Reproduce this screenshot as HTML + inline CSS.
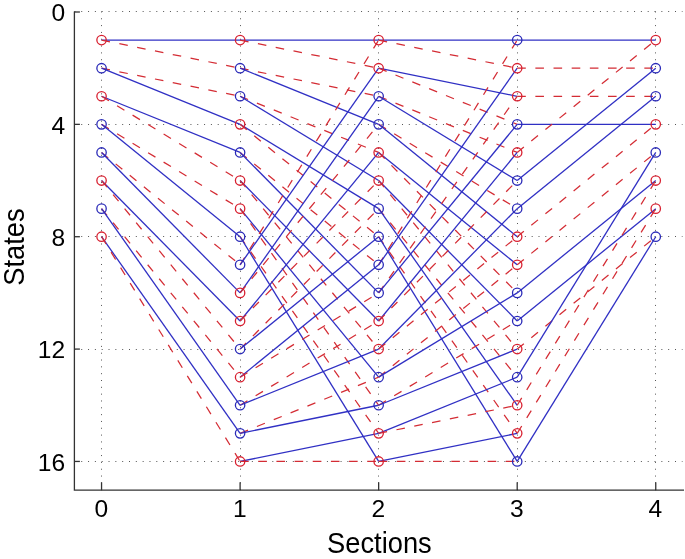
<!DOCTYPE html>
<html><head><meta charset="utf-8"><style>
html,body{margin:0;padding:0;background:#fff;}
svg{display:block;will-change:transform;}
line.b{stroke:#3030c4;}
line.r{stroke:#d42c34;stroke-dasharray:8.6px 9.56px;stroke-width:1.25px;}
circle.b{stroke:#2a2ab8;}
circle.r{stroke:#d82030;}
text{font-family:"Liberation Sans",sans-serif;fill:#000;}
.lbl{will-change:transform;}
</style></head><body>
<svg width="685" height="559" viewBox="0 0 685 559">
<rect width="685" height="559" fill="#fff"/>
<g stroke="#555" stroke-width="1" stroke-dasharray="1 5.825" fill="none">
<line x1="101.5" y1="490.2" x2="101.5" y2="11.4" />
<line x1="240.5" y1="490.2" x2="240.5" y2="11.4" />
<line x1="378.5" y1="490.2" x2="378.5" y2="11.4" />
<line x1="517.5" y1="490.2" x2="517.5" y2="11.4" />
<line x1="655.5" y1="490.2" x2="655.5" y2="11.4" />
<line x1="74.4" y1="11.5" x2="682.5" y2="11.5" />
<line x1="74.4" y1="124.5" x2="682.5" y2="124.5" />
<line x1="74.4" y1="236.5" x2="682.5" y2="236.5" />
<line x1="74.4" y1="349.5" x2="682.5" y2="349.5" />
<line x1="74.4" y1="461.5" x2="682.5" y2="461.5" />
</g>
<g stroke-width="1.3" fill="none">
<line class="b" x1="101.55" y1="40.09" x2="240.1" y2="40.09"/>
<line class="r" x1="101.55" y1="40.09" x2="240.1" y2="68.18"/>
<line class="r" x1="101.55" y1="68.18" x2="240.1" y2="96.27"/>
<line class="b" x1="101.55" y1="68.18" x2="240.1" y2="124.36"/>
<line class="b" x1="101.55" y1="96.27" x2="240.1" y2="152.45"/>
<line class="r" x1="101.55" y1="96.27" x2="240.1" y2="180.54"/>
<line class="r" x1="101.55" y1="124.36" x2="240.1" y2="208.63"/>
<line class="b" x1="101.55" y1="124.36" x2="240.1" y2="236.72"/>
<line class="r" x1="101.55" y1="152.45" x2="240.1" y2="264.81"/>
<line class="b" x1="101.55" y1="152.45" x2="240.1" y2="292.9"/>
<line class="b" x1="101.55" y1="180.54" x2="240.1" y2="320.99"/>
<line class="r" x1="101.55" y1="180.54" x2="240.1" y2="349.08"/>
<line class="r" x1="101.55" y1="208.63" x2="240.1" y2="377.17"/>
<line class="b" x1="101.55" y1="208.63" x2="240.1" y2="405.26"/>
<line class="b" x1="101.55" y1="236.72" x2="240.1" y2="433.35"/>
<line class="r" x1="101.55" y1="236.72" x2="240.1" y2="461.44"/>
<line class="b" x1="240.1" y1="40.09" x2="378.65" y2="40.09"/>
<line class="r" x1="240.1" y1="40.09" x2="378.65" y2="68.18"/>
<line class="r" x1="240.1" y1="68.18" x2="378.65" y2="96.27"/>
<line class="b" x1="240.1" y1="68.18" x2="378.65" y2="124.36"/>
<line class="r" x1="240.1" y1="96.27" x2="378.65" y2="152.45"/>
<line class="b" x1="240.1" y1="96.27" x2="378.65" y2="180.54"/>
<line class="b" x1="240.1" y1="124.36" x2="378.65" y2="208.63"/>
<line class="r" x1="240.1" y1="124.36" x2="378.65" y2="236.72"/>
<line class="r" x1="240.1" y1="152.45" x2="378.65" y2="264.81"/>
<line class="b" x1="240.1" y1="152.45" x2="378.65" y2="292.9"/>
<line class="b" x1="240.1" y1="180.54" x2="378.65" y2="320.99"/>
<line class="r" x1="240.1" y1="180.54" x2="378.65" y2="349.08"/>
<line class="b" x1="240.1" y1="208.63" x2="378.65" y2="377.17"/>
<line class="r" x1="240.1" y1="208.63" x2="378.65" y2="405.26"/>
<line class="r" x1="240.1" y1="236.72" x2="378.65" y2="433.35"/>
<line class="b" x1="240.1" y1="236.72" x2="378.65" y2="461.44"/>
<line class="r" x1="240.1" y1="264.81" x2="378.65" y2="40.09"/>
<line class="b" x1="240.1" y1="264.81" x2="378.65" y2="68.18"/>
<line class="b" x1="240.1" y1="292.9" x2="378.65" y2="96.27"/>
<line class="r" x1="240.1" y1="292.9" x2="378.65" y2="124.36"/>
<line class="b" x1="240.1" y1="320.99" x2="378.65" y2="152.45"/>
<line class="r" x1="240.1" y1="320.99" x2="378.65" y2="180.54"/>
<line class="r" x1="240.1" y1="349.08" x2="378.65" y2="208.63"/>
<line class="b" x1="240.1" y1="349.08" x2="378.65" y2="236.72"/>
<line class="b" x1="240.1" y1="377.17" x2="378.65" y2="264.81"/>
<line class="r" x1="240.1" y1="377.17" x2="378.65" y2="292.9"/>
<line class="r" x1="240.1" y1="405.26" x2="378.65" y2="320.99"/>
<line class="b" x1="240.1" y1="405.26" x2="378.65" y2="349.08"/>
<line class="r" x1="240.1" y1="433.35" x2="378.65" y2="377.17"/>
<line class="b" x1="240.1" y1="433.35" x2="378.65" y2="405.26"/>
<line class="b" x1="240.1" y1="461.44" x2="378.65" y2="433.35"/>
<line class="r" x1="240.1" y1="461.44" x2="378.65" y2="461.44"/>
<line class="b" x1="378.65" y1="40.09" x2="517.2" y2="40.09"/>
<line class="r" x1="378.65" y1="40.09" x2="517.2" y2="68.18"/>
<line class="b" x1="378.65" y1="68.18" x2="517.2" y2="96.27"/>
<line class="r" x1="378.65" y1="68.18" x2="517.2" y2="124.36"/>
<line class="r" x1="378.65" y1="96.27" x2="517.2" y2="152.45"/>
<line class="b" x1="378.65" y1="96.27" x2="517.2" y2="180.54"/>
<line class="r" x1="378.65" y1="124.36" x2="517.2" y2="208.63"/>
<line class="b" x1="378.65" y1="124.36" x2="517.2" y2="236.72"/>
<line class="b" x1="378.65" y1="152.45" x2="517.2" y2="264.81"/>
<line class="r" x1="378.65" y1="152.45" x2="517.2" y2="292.9"/>
<line class="b" x1="378.65" y1="180.54" x2="517.2" y2="320.99"/>
<line class="r" x1="378.65" y1="180.54" x2="517.2" y2="349.08"/>
<line class="r" x1="378.65" y1="208.63" x2="517.2" y2="377.17"/>
<line class="b" x1="378.65" y1="208.63" x2="517.2" y2="405.26"/>
<line class="r" x1="378.65" y1="236.72" x2="517.2" y2="433.35"/>
<line class="b" x1="378.65" y1="236.72" x2="517.2" y2="461.44"/>
<line class="r" x1="378.65" y1="264.81" x2="517.2" y2="40.09"/>
<line class="b" x1="378.65" y1="264.81" x2="517.2" y2="68.18"/>
<line class="r" x1="378.65" y1="292.9" x2="517.2" y2="96.27"/>
<line class="b" x1="378.65" y1="292.9" x2="517.2" y2="124.36"/>
<line class="b" x1="378.65" y1="320.99" x2="517.2" y2="152.45"/>
<line class="r" x1="378.65" y1="320.99" x2="517.2" y2="180.54"/>
<line class="b" x1="378.65" y1="349.08" x2="517.2" y2="208.63"/>
<line class="r" x1="378.65" y1="349.08" x2="517.2" y2="236.72"/>
<line class="r" x1="378.65" y1="377.17" x2="517.2" y2="264.81"/>
<line class="b" x1="378.65" y1="377.17" x2="517.2" y2="292.9"/>
<line class="r" x1="378.65" y1="405.26" x2="517.2" y2="320.99"/>
<line class="b" x1="378.65" y1="405.26" x2="517.2" y2="349.08"/>
<line class="b" x1="378.65" y1="433.35" x2="517.2" y2="377.17"/>
<line class="r" x1="378.65" y1="433.35" x2="517.2" y2="405.26"/>
<line class="b" x1="378.65" y1="461.44" x2="517.2" y2="433.35"/>
<line class="r" x1="378.65" y1="461.44" x2="517.2" y2="461.44"/>
<line class="b" x1="517.2" y1="40.09" x2="655.75" y2="40.09"/>
<line class="r" x1="517.2" y1="68.18" x2="655.75" y2="68.18"/>
<line class="r" x1="517.2" y1="96.27" x2="655.75" y2="96.27"/>
<line class="b" x1="517.2" y1="124.36" x2="655.75" y2="124.36"/>
<line class="r" x1="517.2" y1="152.45" x2="655.75" y2="40.09"/>
<line class="b" x1="517.2" y1="180.54" x2="655.75" y2="68.18"/>
<line class="b" x1="517.2" y1="208.63" x2="655.75" y2="96.27"/>
<line class="r" x1="517.2" y1="236.72" x2="655.75" y2="124.36"/>
<line class="r" x1="517.2" y1="264.81" x2="655.75" y2="152.45"/>
<line class="b" x1="517.2" y1="292.9" x2="655.75" y2="180.54"/>
<line class="b" x1="517.2" y1="320.99" x2="655.75" y2="208.63"/>
<line class="r" x1="517.2" y1="349.08" x2="655.75" y2="236.72"/>
<line class="b" x1="517.2" y1="377.17" x2="655.75" y2="152.45"/>
<line class="r" x1="517.2" y1="405.26" x2="655.75" y2="180.54"/>
<line class="r" x1="517.2" y1="433.35" x2="655.75" y2="208.63"/>
<line class="b" x1="517.2" y1="461.44" x2="655.75" y2="236.72"/>
</g>
<g stroke-width="1.3" fill="none">
<circle class="r" cx="101.55" cy="40.09" r="4.7"/>
<circle class="b" cx="101.55" cy="68.18" r="4.7"/>
<circle class="r" cx="101.55" cy="96.27" r="4.7"/>
<circle class="b" cx="101.55" cy="124.36" r="4.7"/>
<circle class="b" cx="101.55" cy="152.45" r="4.7"/>
<circle class="r" cx="101.55" cy="180.54" r="4.7"/>
<circle class="b" cx="101.55" cy="208.63" r="4.7"/>
<circle class="r" cx="101.55" cy="236.72" r="4.7"/>
<circle class="r" cx="240.1" cy="40.09" r="4.7"/>
<circle class="b" cx="240.1" cy="68.18" r="4.7"/>
<circle class="b" cx="240.1" cy="96.27" r="4.7"/>
<circle class="r" cx="240.1" cy="124.36" r="4.7"/>
<circle class="b" cx="240.1" cy="152.45" r="4.7"/>
<circle class="r" cx="240.1" cy="180.54" r="4.7"/>
<circle class="r" cx="240.1" cy="208.63" r="4.7"/>
<circle class="b" cx="240.1" cy="236.72" r="4.7"/>
<circle class="b" cx="240.1" cy="264.81" r="4.7"/>
<circle class="r" cx="240.1" cy="292.9" r="4.7"/>
<circle class="r" cx="240.1" cy="320.99" r="4.7"/>
<circle class="b" cx="240.1" cy="349.08" r="4.7"/>
<circle class="r" cx="240.1" cy="377.17" r="4.7"/>
<circle class="b" cx="240.1" cy="405.26" r="4.7"/>
<circle class="b" cx="240.1" cy="433.35" r="4.7"/>
<circle class="r" cx="240.1" cy="461.44" r="4.7"/>
<circle class="r" cx="378.65" cy="40.09" r="4.7"/>
<circle class="r" cx="378.65" cy="68.18" r="4.7"/>
<circle class="b" cx="378.65" cy="96.27" r="4.7"/>
<circle class="b" cx="378.65" cy="124.36" r="4.7"/>
<circle class="r" cx="378.65" cy="152.45" r="4.7"/>
<circle class="r" cx="378.65" cy="180.54" r="4.7"/>
<circle class="b" cx="378.65" cy="208.63" r="4.7"/>
<circle class="b" cx="378.65" cy="236.72" r="4.7"/>
<circle class="b" cx="378.65" cy="264.81" r="4.7"/>
<circle class="b" cx="378.65" cy="292.9" r="4.7"/>
<circle class="r" cx="378.65" cy="320.99" r="4.7"/>
<circle class="r" cx="378.65" cy="349.08" r="4.7"/>
<circle class="b" cx="378.65" cy="377.17" r="4.7"/>
<circle class="b" cx="378.65" cy="405.26" r="4.7"/>
<circle class="r" cx="378.65" cy="433.35" r="4.7"/>
<circle class="r" cx="378.65" cy="461.44" r="4.7"/>
<circle class="b" cx="517.2" cy="40.09" r="4.7"/>
<circle class="r" cx="517.2" cy="68.18" r="4.7"/>
<circle class="r" cx="517.2" cy="96.27" r="4.7"/>
<circle class="b" cx="517.2" cy="124.36" r="4.7"/>
<circle class="r" cx="517.2" cy="152.45" r="4.7"/>
<circle class="b" cx="517.2" cy="180.54" r="4.7"/>
<circle class="b" cx="517.2" cy="208.63" r="4.7"/>
<circle class="r" cx="517.2" cy="236.72" r="4.7"/>
<circle class="r" cx="517.2" cy="264.81" r="4.7"/>
<circle class="b" cx="517.2" cy="292.9" r="4.7"/>
<circle class="b" cx="517.2" cy="320.99" r="4.7"/>
<circle class="r" cx="517.2" cy="349.08" r="4.7"/>
<circle class="b" cx="517.2" cy="377.17" r="4.7"/>
<circle class="r" cx="517.2" cy="405.26" r="4.7"/>
<circle class="r" cx="517.2" cy="433.35" r="4.7"/>
<circle class="b" cx="517.2" cy="461.44" r="4.7"/>
<circle class="r" cx="655.75" cy="40.09" r="4.7"/>
<circle class="b" cx="655.75" cy="68.18" r="4.7"/>
<circle class="b" cx="655.75" cy="96.27" r="4.7"/>
<circle class="r" cx="655.75" cy="124.36" r="4.7"/>
<circle class="b" cx="655.75" cy="152.45" r="4.7"/>
<circle class="r" cx="655.75" cy="180.54" r="4.7"/>
<circle class="r" cx="655.75" cy="208.63" r="4.7"/>
<circle class="b" cx="655.75" cy="236.72" r="4.7"/>
</g>
<g stroke="#333" stroke-width="1.3" fill="none">
<polyline points="74.4,11.4 74.4,490.2 684.0,490.2"/>
<line x1="101.55" y1="490.2" x2="101.55" y2="482.3" />
<line x1="240.1" y1="490.2" x2="240.1" y2="482.3" />
<line x1="378.65" y1="490.2" x2="378.65" y2="482.3" />
<line x1="517.2" y1="490.2" x2="517.2" y2="482.3" />
<line x1="655.75" y1="490.2" x2="655.75" y2="482.3" />
<line x1="74.4" y1="12" x2="79.9" y2="12" />
<line x1="74.4" y1="124.36" x2="79.9" y2="124.36" />
<line x1="74.4" y1="236.72" x2="79.9" y2="236.72" />
<line x1="74.4" y1="349.08" x2="79.9" y2="349.08" />
<line x1="74.4" y1="461.44" x2="79.9" y2="461.44" />
</g>
<g font-size="23" class="lbl">
<text transform="translate(101.25,517) scale(1.07,1)" text-anchor="middle">0</text>
<text transform="translate(239.8,517) scale(1.07,1)" text-anchor="middle">1</text>
<text transform="translate(378.35,517) scale(1.07,1)" text-anchor="middle">2</text>
<text transform="translate(516.9,517) scale(1.07,1)" text-anchor="middle">3</text>
<text transform="translate(655.45,517) scale(1.07,1)" text-anchor="middle">4</text>
<text transform="translate(65.2,21.3) scale(1.07,1)" text-anchor="end">0</text>
<text transform="translate(65.2,133.66) scale(1.07,1)" text-anchor="end">4</text>
<text transform="translate(65.2,246.02) scale(1.07,1)" text-anchor="end">8</text>
<text transform="translate(65.2,358.38) scale(1.07,1)" text-anchor="end">12</text>
<text transform="translate(65.2,470.74) scale(1.07,1)" text-anchor="end">16</text>
</g>
<text transform="translate(379.4,553) scale(1.05,1.115)" text-anchor="middle" font-size="26">Sections</text>
<text transform="translate(24.3,247) rotate(-90) scale(1.05,1.12)" text-anchor="middle" font-size="26">States</text>
</svg>
</body></html>
